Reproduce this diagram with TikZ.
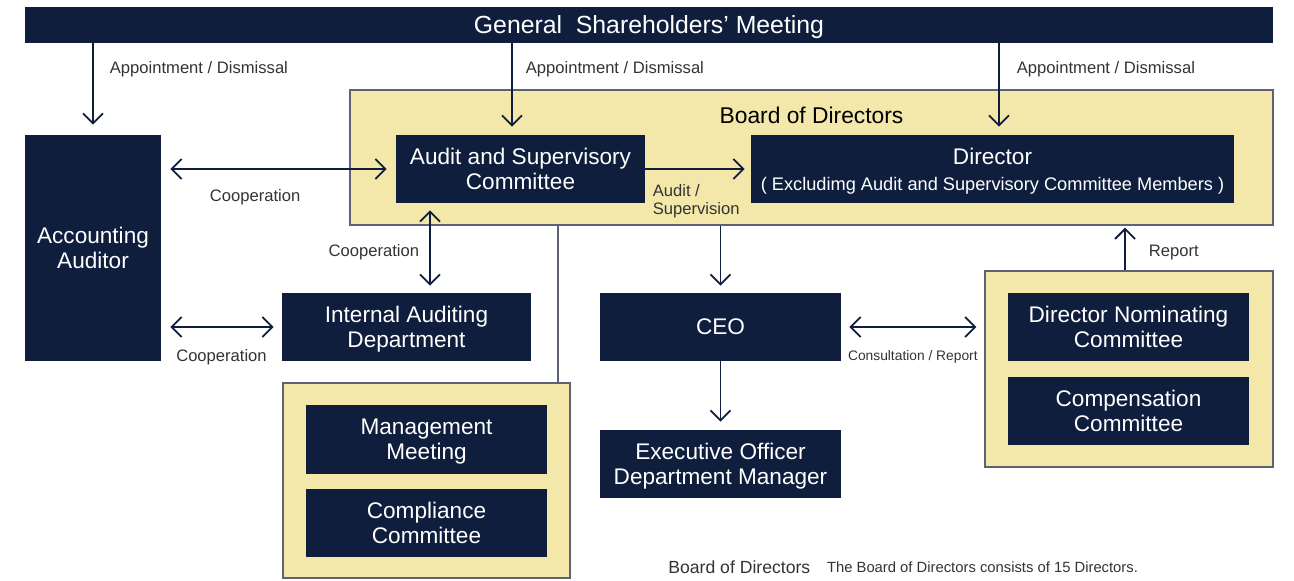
\documentclass[tikz,border=0pt]{standalone}
\usepackage{fontspec}
\setmainfont{Liberation Sans}
\usetikzlibrary{arrows.meta, positioning}
\definecolor{govNavy}{HTML}{0F1E3C}
\definecolor{govYellow}{HTML}{F3E7AA}
\definecolor{govEdge}{HTML}{5E6373}
\definecolor{govText}{HTML}{333333}

\begin{document}
\begin{tikzpicture}[
  x=0.5pt, y=-0.5pt,
  dark/.style={fill=govNavy, text=white, align=center, inner sep=0pt, text depth=-2pt,
               font=\fontsize{11.3}{12.6}\selectfont},
  group/.style={draw=govEdge, fill=govYellow, line width=0.7pt, inner sep=0pt},
  lbl/.style={text=govText, inner sep=0pt, font=\fontsize{8.3}{9}\selectfont},
  arr/.style={draw=govNavy, line width=0.9pt,
              -{Straight Barb[length=5pt, width=10pt]}},
  darr/.style={draw=govNavy, line width=0.9pt,
              {Straight Barb[length=5pt, width=10pt]}-{Straight Barb[length=5pt, width=10pt]}}
]
  \useasboundingbox (0,0) rectangle (1294,580);

  \node[dark, minimum width=624pt, minimum height=18pt, text depth=-0.5pt,
        font=\fontsize{12.4}{13}\selectfont] (gsm) at (649,25)
        {General\ \ Shareholders' Meeting};

  \node[group, minimum width=461.5pt, minimum height=67.5pt] (bod) at (811.5,157.5) {};
  \node[font=\fontsize{11.4}{12}\selectfont, inner sep=0pt] (bodt)
        at ([yshift=-13pt]bod.north) {Board of Directors};
  \node[dark, minimum width=124.5pt, minimum height=34pt] (aud) at (520.5,169)
        {Audit and Supervisory\\Committee};
  \node[dark, minimum width=241.5pt, minimum height=34pt,
        font=\fontsize{11.3}{13}\selectfont] (dir) at (992.5,169)
        {Director\\{\fontsize{9.1}{10}\selectfont ( Excludimg Audit and Supervisory Committee Members )}};

  \node[dark, minimum width=68pt, minimum height=113pt] (acc) at (93,248)
        {Accounting\\Auditor};
  \node[dark, minimum width=124.5pt, minimum height=34pt] (iad) at (406.5,327)
        {Internal Auditing\\Department};

  \node[group, minimum width=143.5pt, minimum height=97.5pt] (mgrp) at (426.5,480.5) {};
  \node[dark, minimum width=120.5pt, minimum height=34.5pt] (mtg) at (426.5,439.5)
        {Management\\Meeting};
  \node[dark, minimum width=120.5pt, minimum height=34pt] (cmp) at (426.5,523)
        {Compliance\\Committee};

  \node[dark, minimum width=120.5pt, minimum height=34pt] (ceo) at (720.5,327) {CEO};
  \node[dark, minimum width=120.5pt, minimum height=34pt] (exe) at (720.5,464)
        {Executive Officer\\Department Manager};

  \node[group, minimum width=144pt, minimum height=98pt] (cgrp) at (1129,369) {};
  \node[dark, minimum width=120.5pt, minimum height=34pt] (dnc) at (1128.5,327)
        {Director Nominating\\Committee};
  \node[dark, minimum width=120.5pt, minimum height=34pt] (cpc) at (1128.5,411)
        {Compensation\\Committee};

  \draw[arr, shorten >=5pt] (gsm.south -| acc.north) -- (acc.north)
        node[lbl, anchor=west, pos=0.285, xshift=8pt] {Appointment / Dismissal};
  \draw[arr, shorten >=4pt] ([xshift=-4.25pt]aud.north |- gsm.south) -- ([xshift=-4.25pt]aud.north)
        node[lbl, anchor=west, pos=0.285, xshift=6.5pt] {Appointment / Dismissal};
  \draw[arr, shorten >=4pt] ([xshift=3.25pt]dir.north |- gsm.south) -- ([xshift=3.25pt]dir.north)
        node[lbl, anchor=west, pos=0.285, xshift=8.5pt] {Appointment / Dismissal};

  \draw[darr, shorten <=4.5pt, shorten >=4.5pt] (acc.east |- aud.west) -- (aud.west)
        node[lbl, pos=0.4, yshift=-14pt] {Cooperation};
  \draw[arr, shorten >=3pt] (aud.east) -- (dir.west);
  \node[lbl, anchor=north west, align=left, font=\fontsize{8.3}{9}\selectfont]
        (ausv) at ([xshift=3.5pt, yshift=-7.5pt]aud.east) {Audit /\\Supervision};

  \draw[darr, shorten <=3.5pt, shorten >=3.5pt] ([xshift=11.75pt]iad.north |- aud.south) -- ([xshift=11.75pt]iad.north)
        node[lbl, midway, left=5pt, yshift=-2pt] {Cooperation};
  \draw[darr, shorten <=4.5pt, shorten >=4pt] (acc.east |- iad.west) -- (iad.west)
        node[lbl, midway, yshift=-15pt] {Cooperation};

  \draw[draw=govEdge, line width=0.9pt] ([xshift=-6.5pt]mgrp.north east |- bod.south) -- ([xshift=-6.5pt]mgrp.north east);

  \draw[arr, shorten >=3.5pt] (bod.south -| ceo.north) -- (ceo.north);
  \draw[arr, shorten >=4pt] (ceo.south) -- (exe.north);
  \draw[darr, shorten <=4pt, shorten >=4pt] (ceo.east) -- (ceo.east -| cgrp.west)
        node[lbl, midway, yshift=-15pt, font=\fontsize{6.9}{8}\selectfont] {Consultation / Report};
  \draw[arr, shorten >=1pt] ([xshift=-2pt]cgrp.north) -- ([xshift=-2pt]cgrp.north |- bod.south)
        node[lbl, midway, right=11.5pt, yshift=-2.5pt] {Report};

  \node[lbl, anchor=west, font=\fontsize{8.8}{10}\selectfont] (fn1) at (668,567) {Board of Directors};
  \node[lbl, right=8pt of fn1, font=\fontsize{7.4}{9}\selectfont] (fn2)
        {The Board of Directors consists of 15 Directors.};
\end{tikzpicture}
\end{document}
